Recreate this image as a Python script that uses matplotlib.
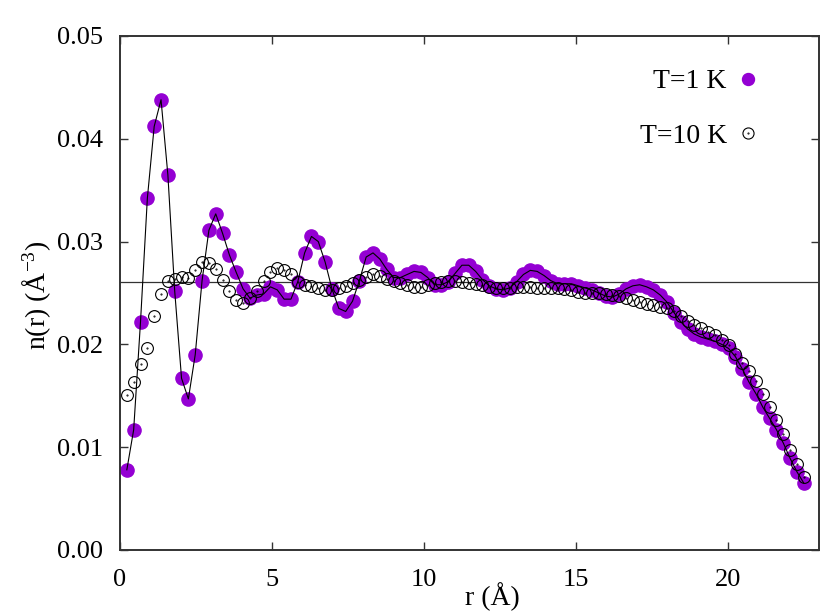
import numpy as np
import matplotlib
matplotlib.use("Agg")
import matplotlib.pyplot as plt
from matplotlib.legend_handler import HandlerTuple
from matplotlib.ticker import FormatStrFormatter

# radial bins (Angstrom)
dr = 0.225
n_bins = 100
r = dr * np.arange(1, n_bins + 1)

# n(r) at T = 1 K
n_1K = [
    0.0078, 0.0117, 0.0222, 0.0342, 0.0412, 0.0438, 0.0365, 0.0252, 0.0167, 0.0147,
    0.0190, 0.0262, 0.0311, 0.0327, 0.0308, 0.0287, 0.0270, 0.0254, 0.0245, 0.0248,
    0.0249, 0.0256, 0.0253, 0.0244, 0.0244, 0.0261, 0.0289, 0.0305, 0.0300, 0.0280,
    0.0254, 0.0235, 0.0232, 0.0242, 0.0262, 0.0285, 0.0289, 0.0283, 0.0273, 0.0265,
    0.0265, 0.0268, 0.0271, 0.0270, 0.0265, 0.0258, 0.0258, 0.0261, 0.0269, 0.0277,
    0.0277, 0.0271, 0.0263, 0.0257, 0.0254, 0.0253, 0.0255, 0.0261, 0.0268, 0.0272,
    0.0271, 0.0267, 0.0262, 0.0259, 0.0259, 0.0259, 0.0257, 0.0255, 0.0253, 0.0250,
    0.0247, 0.0246, 0.0249, 0.0254, 0.0257, 0.0258, 0.0256, 0.0253, 0.0248, 0.0241,
    0.0231, 0.0222, 0.0215, 0.0210, 0.0207, 0.0205, 0.0203, 0.0200, 0.0196, 0.0188,
    0.0176, 0.0163, 0.0152, 0.0139, 0.0128, 0.0117, 0.0104, 0.0089, 0.0076, 0.0065,
]

# n(r) at T = 10 K
n_10K = [
    0.0151, 0.0163, 0.0181, 0.0196, 0.0228, 0.0249, 0.0262, 0.0264, 0.0266, 0.0265,
    0.0272, 0.0280, 0.0279, 0.0273, 0.0263, 0.0252, 0.0243, 0.0240, 0.0245, 0.0252,
    0.0262, 0.0270, 0.0274, 0.0272, 0.0268, 0.0261, 0.0258, 0.0257, 0.0255, 0.0253,
    0.0253, 0.0255, 0.0257, 0.0260, 0.0263, 0.0266, 0.0268, 0.0267, 0.0264, 0.0262,
    0.0260, 0.0258, 0.0256, 0.0256, 0.0258, 0.0260, 0.0261, 0.0262, 0.0262, 0.0261,
    0.0260, 0.0259, 0.0258, 0.0256, 0.0255, 0.0255, 0.0255, 0.0256, 0.0256, 0.0256,
    0.0255, 0.0255, 0.0255, 0.0255, 0.0254, 0.0253, 0.0251, 0.0250, 0.0250, 0.0250,
    0.0249, 0.0248, 0.0247, 0.0245, 0.0243, 0.0241, 0.0239, 0.0238, 0.0236, 0.0235,
    0.0232, 0.0228, 0.0223, 0.0219, 0.0216, 0.0212, 0.0209, 0.0204, 0.0199, 0.0191,
    0.0182, 0.0174, 0.0164, 0.0152, 0.0139, 0.0126, 0.0113, 0.0097, 0.0084, 0.0071,
]

bulk_density = 0.0261

plt.rcParams["font.family"] = ["Liberation Serif", "DejaVu Serif"]
plt.rcParams["mathtext.fontset"] = "custom"
plt.rcParams["mathtext.rm"] = "Liberation Serif"
plt.rcParams["mathtext.it"] = "Liberation Serif:italic"

fig = plt.figure(figsize=(8.31, 6.15), dpi=100)
ax = fig.add_axes([0.1444, 0.1057, 0.8412, 0.8358])

purple = "#9400d3"

ax.plot(r, n_1K, "o", ms=9.5, mfc=purple, mec=purple, ls="none", zorder=2)
ax.plot(r, n_1K, "-", color="black", lw=0.8, zorder=3)
ax.plot(r, n_10K, "o", ms=8.5, mfc="none", mec="black", mew=0.8,
        ls="none", zorder=4)
ax.plot(r, n_10K, ".", ms=1, color="black", ls="none", zorder=4)
ax.axhline(bulk_density, color="#333333", lw=0.9, zorder=1)

# legend handles (gnuplot style: text first, marker on the right)
l1, = ax.plot([], [], "o", ms=8.6, mfc=purple, mec=purple, ls="none")
l10, = ax.plot([], [], "o", ms=8, mfc="none", mec="black", mew=0.8, ls="none")
l10c, = ax.plot([], [], ".", ms=1, color="black", ls="none")
ax.legend([l1, (l10, l10c)], ["T=1 K", "T=10 K"],
          handler_map={tuple: HandlerTuple(ndivide=1, pad=0)},
          markerfirst=False, frameon=False, fontsize=20,
          loc="upper right", bbox_to_anchor=(0.918, 0.936),
          borderaxespad=0, borderpad=0, handlelength=1,
          handletextpad=0.26, labelspacing=1.05)

ax.set_xlim(0, 23)
ax.set_ylim(0, 0.05)
ax.set_xticks([0, 5, 10, 15, 20])
ax.set_yticks([0.0, 0.01, 0.02, 0.03, 0.04, 0.05])
ax.yaxis.set_major_formatter(FormatStrFormatter("%.2f"))
ax.tick_params(direction="in", length=6, width=1, labelsize=19,
               top=True, right=True, colors="#333333", labelcolor="black")
ax.tick_params(axis="x", pad=14)
ax.tick_params(axis="y", pad=12)

for s in ax.spines.values():
    s.set_linewidth(1.4)
    s.set_color("#333333")

ax.set_xlabel("r (Å)", fontsize=20, va="baseline")
ax.xaxis.set_label_coords(0.533, -0.107)
ax.set_ylabel("n(r) (Å$^{-3}$)", fontsize=20, va="baseline")
ax.yaxis.set_label_coords(-0.107, 0.495)

fig.savefig("out.png", dpi=100)
plt.close(fig)
